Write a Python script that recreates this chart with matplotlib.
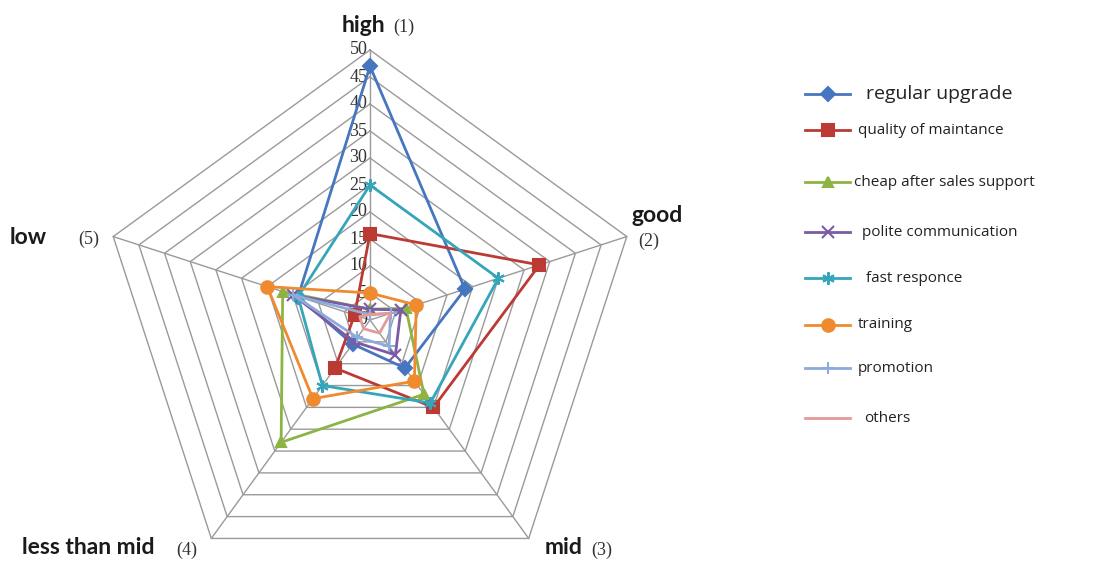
import numpy as np
import matplotlib
matplotlib.use("Agg")
import matplotlib.pyplot as plt

# levels on the radar, clockwise from the top
levels = ["high", "good", "mid", "less than mid", "low"]
level_nums = ["(1)", "(2)", "(3)", "(4)", "(5)"]

series_names = ["regular upgrade", "quality of maintance", "cheap after sales support",
                "polite communication", "fast responce", "training", "promotion", "others"]
regular_upgrade = [47, 18.5, 11, 5.5, 14]
quality_of_maintance = [16, 33, 20, 11, 3]
cheap_after_sales = [2, 7, 17, 28, 17]
polite_communication = [2, 6, 8, 5, 15]
fast_responce = [25, 25, 19, 15, 14]
training = [5, 9, 14, 18, 20]
promotion = [1, 4, 6, 4, 15]
others = [1, 4, 3, 2, 2]

ticks = list(range(0, 55, 5))

data = [regular_upgrade, quality_of_maintance, cheap_after_sales, polite_communication,
        fast_responce, training, promotion, others]
colors = ["#4676C0", "#BC3A34", "#8DB443", "#7A5BA6", "#35A6BA", "#F08A2E", "#8EAADB", "#E39A9A"]
markers = ["D", "s", "^", "x", (6, 2, 0), "o", "+", None]
msizes = [7, 9, 7, 8, 9, 9, 9, 0]

W, H = 1118, 564
fig = plt.figure(figsize=(W / 100, H / 100), dpi=100)

# radar axes: center at (370, 320) px, 50 units = 270 px
px = 270 / 50
half = 300
cx, cy = 370, 320
ax = fig.add_axes([(cx - half) / W, (H - cy - half) / H, 2 * half / W, 2 * half / H])
ax.set_xlim(-half / px, half / px)
ax.set_ylim(-half / px, half / px)
ax.axis("off")

ang = np.pi / 2 - np.arange(5) * 2 * np.pi / 5


def xy(vals):
    v = np.asarray(vals, dtype=float)
    x = v * np.cos(ang)
    y = v * np.sin(ang)
    return np.append(x, x[0]), np.append(y, y[0])


# pentagon grid and spokes
for t in ticks[1:]:
    gx, gy = xy([t] * 5)
    ax.plot(gx, gy, color="#9a9a9a", lw=1.0, zorder=1)
for a in ang:
    ax.plot([0, 50 * np.cos(a)], [0, 50 * np.sin(a)], color="#9a9a9a", lw=1.0, zorder=1)

for t in ticks:
    ax.text(-0.5, t, str(t), ha="right", va="center", fontsize=13,
            family="Liberation Serif", color="#333333", zorder=2)

for vals, c, m, ms in zip(data, colors, markers, msizes):
    sx, sy = xy(vals)
    ax.plot(sx, sy, color=c, lw=2.0, marker=m, markersize=ms, markeredgewidth=1.5,
            markevery=list(range(5)), zorder=3)

# level labels
bold = dict(fontsize=16.5, fontweight="bold", family="Lato", color="#1a1a1a")
serif = dict(fontsize=13, family="Liberation Serif", color="#333333")
fig.text(342 / W, 1 - 25 / H, levels[0], ha="left", va="center", **bold)
fig.text(393 / W, 1 - 27 / H, level_nums[0], ha="left", va="center", **serif)
fig.text(632 / W, 1 - 216 / H, levels[1], ha="left", va="center", **bold)
fig.text(638 / W, 1 - 241 / H, level_nums[1], ha="left", va="center", **serif)
fig.text(545 / W, 1 - 548 / H, levels[2], ha="left", va="center", **bold)
fig.text(591 / W, 1 - 550 / H, level_nums[2], ha="left", va="center", **serif)
fig.text(22 / W, 1 - 548 / H, levels[3], ha="left", va="center", **bold)
fig.text(176 / W, 1 - 550 / H, level_nums[3], ha="left", va="center", **serif)
fig.text(10 / W, 1 - 237 / H, levels[4], ha="left", va="center", **bold)
fig.text(78 / W, 1 - 239 / H, level_nums[4], ha="left", va="center", **serif)

# legend drawn by hand with uneven spacing
lax = fig.add_axes([0, 0, 1, 1])
lax.set_xlim(0, W)
lax.set_ylim(H, 0)
lax.axis("off")
leg_y = [94, 130, 182, 232, 278, 325, 368, 418]
leg_tx = [866, 858, 854, 862, 866, 858, 858, 864]
leg_fs = [14, 11, 11, 11, 11, 11, 11, 11]
for name, c, m, ms, y, tx, fs in zip(series_names, colors, markers, msizes, leg_y, leg_tx, leg_fs):
    lax.plot([805, 850], [y, y], color=c, lw=2.0)
    if m is not None:
        lax.plot([827.5], [y], color=c, marker=m, markersize=ms, markeredgewidth=1.5,
                 linestyle="none")
    lax.text(tx, y, name, ha="left", va="center", fontsize=fs, family="Open Sans",
             color="#222222")

fig.savefig("out.png", dpi=100)
